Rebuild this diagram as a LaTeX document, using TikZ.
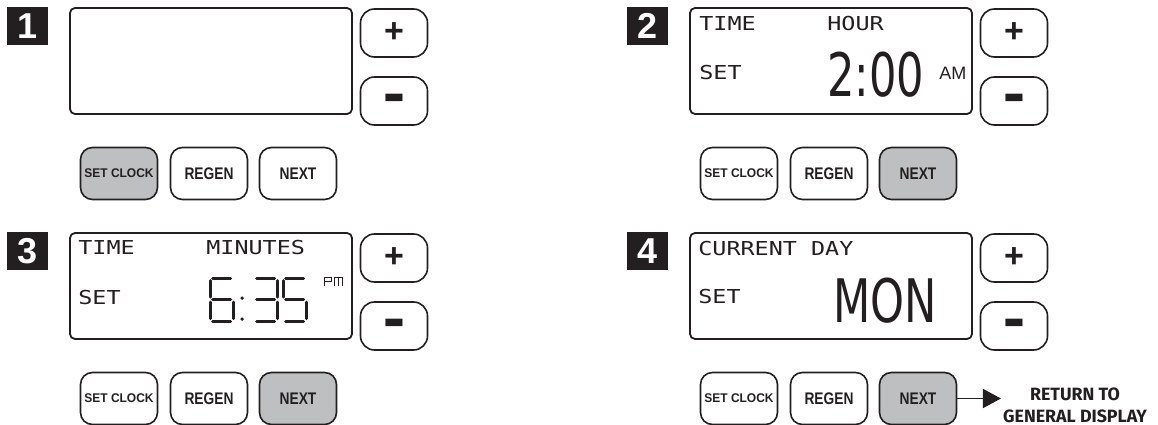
\documentclass[tikz,border=0pt]{standalone}
\usepackage{fontspec}
\setmainfont{DejaVu Sans}
\newfontfamily\lcdfont{DejaVu Sans Mono}
\newfontfamily\keyfont{Liberation Sans}
\newfontfamily\notefont{Fira Sans}
\usetikzlibrary{arrows.meta}

\definecolor{ink}{HTML}{231F20}
\definecolor{keygray}{HTML}{BEBFC1}

\tikzset{
  screen/.style={draw=ink, line width=1.8pt, rounded corners=5pt, minimum width=282pt, minimum height=106pt, inner sep=0pt},
  updown/.style={draw=ink, line width=1.6pt, rounded corners=14pt, minimum width=67pt, minimum height=48pt, inner sep=0pt, text=ink, font=\keyfont\bfseries\fontsize{34}{34}\selectfont},
  key/.style={draw=ink, line width=1.6pt, rounded corners=12pt, minimum width=77pt, minimum height=52pt, inner sep=0pt, text=ink, font=\keyfont\bfseries\fontsize{16.8}{17}\selectfont},
  hit1/.style={}, hit2/.style={}, hit3/.style={},
  badge/.style={fill=ink, text=white, minimum width=41pt, minimum height=38pt, inner sep=0pt, font=\keyfont\bfseries\fontsize{36}{36}\selectfont},
  lcd/.style={anchor=base west, inner sep=0pt, text=ink, font=\lcdfont\fontsize{19.2}{20}\selectfont},
  bigtext/.style={anchor=base west, inner sep=0pt, text=ink, font=\fontsize{60}{60}\selectfont},
  note/.style={align=center, inner sep=0pt, text=ink, font=\notefont\bfseries\fontsize{17.8}{21.5}\selectfont},
  seg/.style={draw=ink, line width=3pt, line cap=round},
  seg a/.style={insert path={(2.5,0) -- (20.5,0)}},
  seg b/.style={insert path={(23,2.5) -- (23,19)}},
  seg c/.style={insert path={(23,24) -- (23,40.5)}},
  seg d/.style={insert path={(2.5,43) -- (20.5,43)}},
  seg e/.style={insert path={(0,24) -- (0,40.5)}},
  seg f/.style={insert path={(0,2.5) -- (0,19)}},
  seg g/.style={insert path={(2.5,21.5) -- (20.5,21.5)}}
}

\newcommand{\xsq}[2]{\scalebox{#1}[1]{#2}}

\newcommand{\segdigit}[2]{%
  \begin{scope}[shift={#1}]
    \foreach \s in {#2} \draw[seg] [seg \s];
  \end{scope}}

\newcommand{\drawpanel}[5]{%
  \begin{scope}[shift={(#2,#3)}, hit#5/.style={fill=keygray}]
    \node[badge] (#1num) at (27.5,26) {#4};
    \node[screen] (#1disp) at (211,61) {};
    \node[updown] (#1plus) at (394,33) {+};
    \node[updown] (#1minus) at (394,101) {\smash{\raisebox{-0.56em}{\scalebox{1}[2]{−}}}};
    \node[key, hit1] (#1set) at (119,173.5) {\fontsize{12.6}{13}\selectfont\xsq{0.95}{SET CLOCK}};
    \node[key, hit2] (#1regen) at (209,173.5) {\xsq{0.82}{REGEN}};
    \node[key, hit3] (#1next) at (298,173.5) {\xsq{0.82}{NEXT}};
  \end{scope}}

\begin{document}
\begin{tikzpicture}[x=1pt, y=-1pt]
\useasboundingbox (0,0) rectangle (1158,425);

\drawpanel{p1}{0}{0}{1}{1}
\drawpanel{p2}{620}{0}{2}{3}
\drawpanel{p3}{0}{225}{3}{3}
\drawpanel{p4}{620}{225}{4}{3}

% step 2
\node[lcd] (p2time) at ([shift={(10,23)}]p2disp.north west) {\xsq{1.22}{TIME}};
\node[lcd] (p2hour) at ([shift={(138,23)}]p2disp.north west) {\xsq{1.22}{HOUR}};
\node[lcd] (p2set) at ([shift={(10,72)}]p2disp.north west) {\xsq{1.22}{SET}};
\node[bigtext] (p2val) at ([shift={(138,89)}]p2disp.north west) {\xsq{0.72}{2:00}};
\node[anchor=base west, inner sep=0pt, text=ink, font=\keyfont\fontsize{18}{18}\selectfont] (p2ampm) at ([shift={(250,72)}]p2disp.north west) {AM};

% step 3
\node[lcd] (p3time) at ([shift={(9,22)}]p3disp.north west) {\xsq{1.22}{TIME}};
\node[lcd] (p3min) at ([shift={(137,22)}]p3disp.north west) {\xsq{1.22}{MINUTES}};
\node[lcd] (p3set) at ([shift={(9,72)}]p3disp.north west) {\xsq{1.22}{SET}};
\begin{scope}[shift={(p3disp.north west)}]
  \segdigit{(141,46)}{a,c,d,e,f,g}
  \segdigit{(185,46)}{a,b,c,d,g}
  \segdigit{(214,46)}{a,c,d,f,g}
  \fill[ink] (173,66) circle (1.8) (173,87) circle (1.8);
  \draw[ink, line width=1.1pt] (255,54) -- (255,45) -- (262,45) -- (262,49.5) -- (255,49.5);
  \draw[ink, line width=1.1pt] (265,54) -- (265,45) -- (273,45) -- (273,54) (269,45) -- (269,54);
\end{scope}

% step 4
\node[lcd] (p4day) at ([shift={(9,23)}]p4disp.north west) {\xsq{1.22}{CURRENT DAY}};
\node[lcd] (p4set) at ([shift={(9,71)}]p4disp.north west) {\xsq{1.22}{SET}};
\node[bigtext] (p4val) at ([shift={(144,90)}]p4disp.north west) {\xsq{0.72}{MON}};

\node[note, anchor=north] (ret) at (1075,388) {RETURN TO\\GENERAL DISPLAY};
\draw[ink, line width=1.6pt, -{Triangle[length=18pt, width=19pt]}, shorten >=2pt] (p4next.east) -- (p4next.east -| ret.west);
\end{tikzpicture}
\end{document}
